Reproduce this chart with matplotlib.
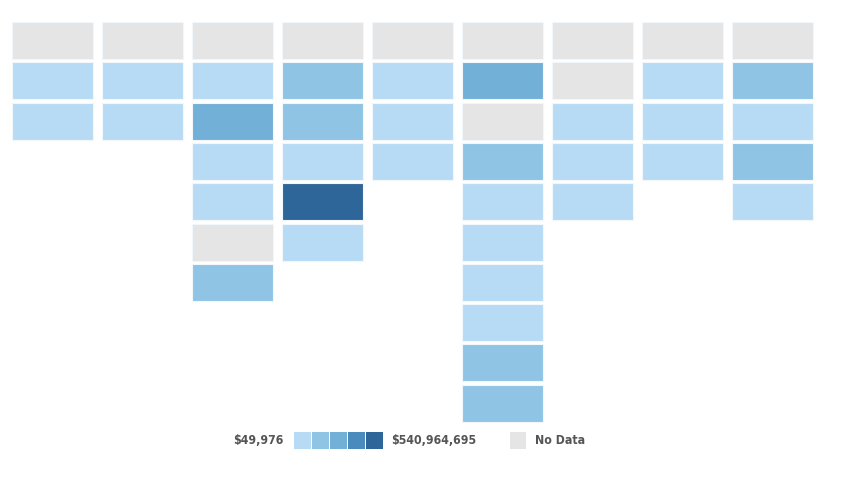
import matplotlib.pyplot as plt
from matplotlib.patches import Rectangle

# color level per cell, one list per column (0 = no data)
columns = [
    [0, 1, 1],
    [0, 1, 1],
    [0, 1, 3, 1, 1, 0, 2],
    [0, 2, 2, 1, 5, 1],
    [0, 1, 1, 1],
    [0, 3, 0, 2, 1, 1, 1, 1, 2, 2],
    [0, 0, 1, 1, 1],
    [0, 1, 1, 1],
    [0, 2, 1, 2, 1],
]
palette = ["#e5e5e5", "#b7dbf5", "#8fc4e5", "#73b0d8", "#4a8bbd", "#2f6699"]
min_label = "$49,976"
max_label = "$540,964,695"
nodata_label = "No Data"

fig = plt.figure(figsize=(8.67, 4.81), dpi=100)
ax = fig.add_axes([0, 0, 1, 1])
ax.set_xlim(0, 867)
ax.set_ylim(481, 0)
ax.set_axis_off()

x0, y0 = 12, 23
cw, ch = 81, 37
px, py = 90, 40.3

for i, col in enumerate(columns):
    for j, lvl in enumerate(col):
        ax.add_patch(Rectangle((x0 + i * px, y0 + j * py), cw, ch,
                               facecolor=palette[lvl], edgecolor="#f2f7fc", lw=0.8))

font = dict(family="DejaVu Sans", fontstretch="condensed", fontweight="bold",
            color="#555555", fontsize=8.8, va="center")

# legend
ly = 441
ax.text(284, ly, min_label, ha="right", **font)
for k in range(5):
    ax.add_patch(Rectangle((294 + k * 18, ly - 8.5), 17, 17,
                           facecolor=palette[k + 1], edgecolor="none"))
ax.text(391, ly, max_label, ha="left", **font)
ax.add_patch(Rectangle((510, ly - 8.5), 16, 17, facecolor=palette[0], edgecolor="none"))
ax.text(535, ly, nodata_label, ha="left", **font)

fig.savefig("out.png", dpi=100)
